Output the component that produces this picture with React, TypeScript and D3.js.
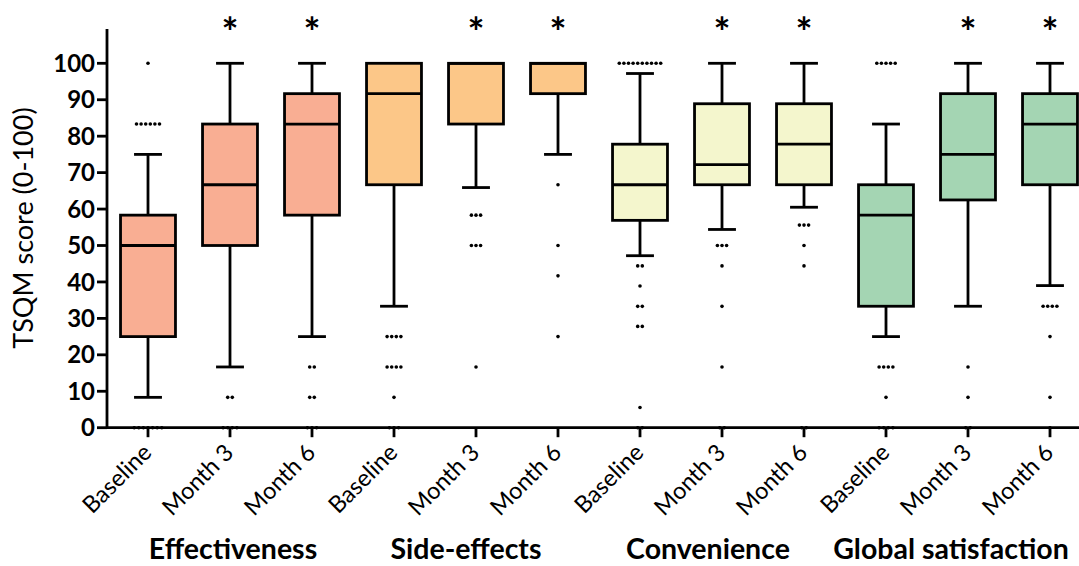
import React from "react";
import * as d3 from "d3";

// ---------- data ----------
const groups = ["Effectiveness", "Side-effects", "Convenience", "Global satisfaction"];
const timepoints = ["Baseline", "Month 3", "Month 6"];
const yTicks = [0, 10, 20, 30, 40, 50, 60, 70, 80, 90, 100];

// one entry per box (group x timepoint)
const whiskerLow = [8.33, 16.67, 25, 33.33, 65.9, 75, 47.2, 54.4, 60.5, 25, 33.33, 39];
const q1 = [25, 50, 58.33, 66.67, 83.33, 91.67, 56.9, 66.67, 66.67, 33.33, 62.5, 66.67];
const median = [50, 66.67, 83.33, 91.67, 100, 100, 66.67, 72.2, 77.8, 58.33, 75, 83.33];
const q3 = [58.33, 83.33, 91.67, 100, 100, 100, 77.8, 88.9, 88.9, 66.67, 91.67, 91.67];
const whiskerHigh = [75, 100, 100, 100, 100, 100, 97.2, 100, 100, 83.33, 100, 100];
// outliers: [value, number of coincident points]
const outliers: [number, number][][] = [
  [[100, 1], [83.33, 6], [0, 7]],
  [[8.33, 2], [0, 4]],
  [[16.67, 2], [8.33, 2], [0, 3]],
  [[25, 4], [16.67, 4], [8.33, 1], [0, 3]],
  [[58.33, 3], [50, 3], [16.67, 1]],
  [[66.67, 1], [50, 1], [41.67, 1], [25, 1]],
  [[100, 10], [44.4, 2], [38.9, 1], [33.3, 2], [27.8, 2], [5.56, 1], [0, 2]],
  [[50, 3], [44.4, 1], [33.3, 1], [16.67, 1], [0, 2]],
  [[55.6, 3], [50, 1], [44.4, 1], [0, 2]],
  [[100, 5], [16.67, 4], [8.33, 1], [0, 4]],
  [[16.67, 1], [8.33, 1], [0, 2]],
  [[33.33, 4], [25, 1], [8.33, 1], [0, 1]],
];
const significant = [false, true, true, false, true, true, false, true, true, false, true, true];

// ---------- style / layout ----------
const groupColors = ["#F9AE93", "#FCC788", "#F4F6CD", "#A4D5B3"];
const W = 1079;
const H = 566;
const FONT = "Lato, 'Liberation Sans', sans-serif";
const groupLabelOffset = [3, -10, -14, -17];

export default function App() {
  const y = d3.scaleLinear().domain([0, 100]).range([427.7, 63.3]);
  const x = d3
    .scaleBand<number>()
    .domain(d3.range(groups.length * timepoints.length))
    .range([107, 1091]);
  const bw = x.bandwidth();
  const boxW = bw * 0.67;
  const capW = bw * 0.34;
  const cx = (i: number) => (x(i) as number) + bw / 2;
  const sw = 2.8;
  const axisY = y(0);
  const axisX = 107;

  const boxes = d3.range(whiskerLow.length);

  return (
    <svg
      width={W}
      height={H}
      style={{ position: "absolute", left: 0, top: 0, background: "#fff" }}
      fontFamily={FONT}
    >
      {/* outliers */}
      {boxes.map((i) =>
        outliers[i].map(([v, n], k) =>
          d3.range(n).map((j) => (
            <circle
              key={`o${i}-${k}-${j}`}
              cx={cx(i) + (j - (n - 1) / 2) * 4.6}
              cy={y(v)}
              r={1.8}
              fill="#000"
            />
          ))
        )
      )}

      {/* whiskers */}
      {boxes.map((i) => (
        <g key={`w${i}`} stroke="#000" strokeWidth={sw}>
          {whiskerHigh[i] > q3[i] && (
            <>
              <line x1={cx(i)} x2={cx(i)} y1={y(q3[i])} y2={y(whiskerHigh[i])} />
              <line x1={cx(i) - capW / 2} x2={cx(i) + capW / 2} y1={y(whiskerHigh[i])} y2={y(whiskerHigh[i])} />
            </>
          )}
          {whiskerLow[i] < q1[i] && (
            <>
              <line x1={cx(i)} x2={cx(i)} y1={y(q1[i])} y2={y(whiskerLow[i])} />
              <line x1={cx(i) - capW / 2} x2={cx(i) + capW / 2} y1={y(whiskerLow[i])} y2={y(whiskerLow[i])} />
            </>
          )}
        </g>
      ))}

      {/* boxes */}
      {boxes.map((i) => (
        <g key={`b${i}`}>
          <rect
            x={cx(i) - boxW / 2}
            y={y(q3[i])}
            width={boxW}
            height={y(q1[i]) - y(q3[i])}
            fill={groupColors[Math.floor(i / timepoints.length)]}
            stroke="#000"
            strokeWidth={sw}
          />
          <line
            x1={cx(i) - boxW / 2}
            x2={cx(i) + boxW / 2}
            y1={y(median[i])}
            y2={y(median[i])}
            stroke="#000"
            strokeWidth={sw}
          />
        </g>
      ))}

      {/* significance marks */}
      {boxes.map((i) =>
        significant[i] ? (
          <text
            key={`s${i}`}
            x={cx(i)}
            y={47}
            textAnchor="middle"
            fontSize={40}
            fontWeight="bold"
          >
            *
          </text>
        ) : null
      )}

      {/* y axis */}
      <line x1={axisX} x2={axisX} y1={axisY + sw / 2} y2={29} stroke="#000" strokeWidth={sw} />
      {yTicks.map((t) => (
        <g key={`yt${t}`}>
          <line x1={axisX - 10} x2={axisX} y1={y(t)} y2={y(t)} stroke="#000" strokeWidth={sw} />
          <text
            x={axisX - 12}
            y={y(t)}
            dy="0.36em"
            textAnchor="end"
            fontSize={24}
            fontWeight="bold"
          >
            {t}
          </text>
        </g>
      ))}
      <text
        transform={`translate(33, ${228}) rotate(-90)`}
        textAnchor="middle"
        fontSize={27}
      >
        TSQM score (0-100)
      </text>

      {/* x axis */}
      <line x1={axisX} x2={W} y1={axisY} y2={axisY} stroke="#000" strokeWidth={sw} />
      {boxes.map((i) => (
        <g key={`xt${i}`}>
          <line x1={cx(i)} x2={cx(i)} y1={axisY} y2={axisY + 9.5} stroke="#000" strokeWidth={sw} />
          <text
            transform={`translate(${cx(i) + 5}, ${454}) rotate(-45)`}
            textAnchor="end"
            fontSize={23.5}
          >
            {timepoints[i % timepoints.length]}
          </text>
        </g>
      ))}
      {groups.map((g, gi) => (
        <text
          key={`g${gi}`}
          x={cx(gi * timepoints.length + 1) + groupLabelOffset[gi]}
          y={559}
          textAnchor="middle"
          fontSize={28.5}
          fontWeight="bold"
        >
          {g}
        </text>
      ))}
    </svg>
  );
}
